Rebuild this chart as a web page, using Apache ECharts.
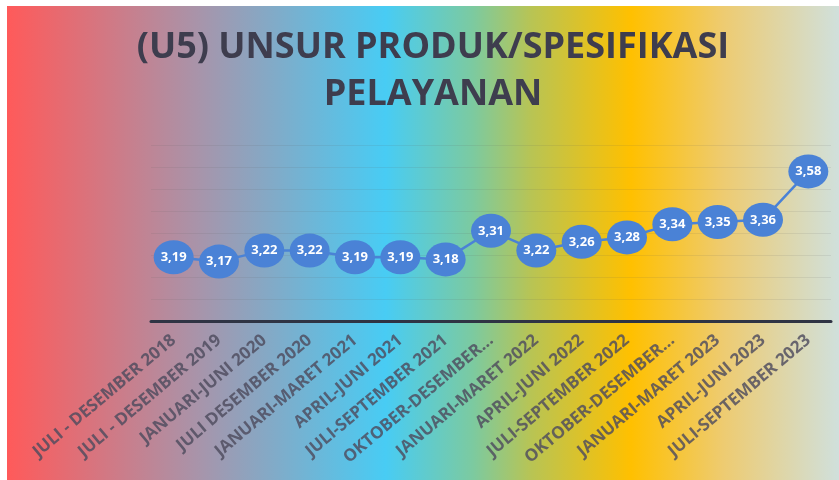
<!DOCTYPE html>
<html>
<head>
<meta charset="utf-8">
<script src="https://cdn.jsdelivr.net/npm/echarts@6/dist/echarts.min.js"></script>
<style>
  html, body { margin: 0; padding: 0; background: #fff; }
  #myChart {
    position: absolute;
    left: 7px;
    top: 6px;
    width: 832px;
    height: 474px;
  }
</style>
</head>
<body>
<div id="myChart"></div>
<script>
// data
const periods = [
  'JULI - DESEMBER 2018', 'JULI - DESEMBER 2019', 'JANUARI-JUNI 2020',
  'JULI DESEMBER 2020', 'JANUARI-MARET 2021', 'APRIL-JUNI 2021',
  'JULI-SEPTEMBER 2021', 'OKTOBER-DESEMBER 2021', 'JANUARI-MARET 2022',
  'APRIL-JUNI 2022', 'JULI-SEPTEMBER 2022', 'OKTOBER-DESEMBER 2022',
  'JANUARI-MARET 2023', 'APRIL-JUNI 2023', 'JULI-SEPTEMBER 2023'
]
const scores = [3.19, 3.17, 3.22, 3.22, 3.19, 3.19, 3.18, 3.31, 3.22, 3.26, 3.28, 3.34, 3.35, 3.36, 3.58]
const titleLines = ['(U5) UNSUR PRODUK/SPESIFIKASI', 'PELAYANAN']

const myChart = echarts.init(document.getElementById('myChart'))

myChart.setOption({
  animation: false,
  // rainbow background like the office preset
  backgroundColor: new echarts.graphic.LinearGradient(0, 0, 1, 0, [
    { offset: 0, color: '#ff5a5a' },
    { offset: 0.23, color: '#a894aa' },
    { offset: 0.455, color: '#48ccf4' },
    { offset: 0.56, color: '#7ccaa0' },
    { offset: 0.63, color: '#b8c454' },
    { offset: 0.75, color: '#ffc000' },
    { offset: 0.86, color: '#eecb70' },
    { offset: 1, color: '#d0e0dc' }
  ]),
  graphic: [
    {
      type: 'text',
      x: 426,
      y: 18,
      style: {
        text: titleLines.join('\n'),
        font: 'bold 36px "Open Sans", sans-serif',
        fill: '#3e3d4e',
        align: 'center',
        lineHeight: 47
      }
    }
  ],
  grid: {
    left: 144,
    right: 8,
    top: 139,
    bottom: 159
  },
  xAxis: {
    type: 'category',
    boundaryGap: true,
    data: periods,
    axisLine: {
      lineStyle: { color: '#2f3444', width: 3 }
    },
    axisTick: { show: false },
    axisLabel: {
      interval: 0,
      rotate: 40,
      margin: 17,
      color: 'rgba(78, 76, 94, 0.82)',
      fontFamily: 'Open Sans',
      fontWeight: 'bold',
      fontSize: 17,
      width: 193,
      overflow: 'truncate',
      ellipsis: '...'
    }
  },
  yAxis: {
    type: 'value',
    min: 2.9,
    max: 3.7,
    interval: 0.1,
    axisLine: { show: false },
    axisTick: { show: false },
    axisLabel: { show: false },
    splitLine: {
      lineStyle: { color: 'rgba(90, 90, 90, 0.11)', width: 1 }
    }
  },
  series: [
    {
      type: 'line',
      data: scores,
      symbol: 'circle',
      symbolSize: [40, 34],
      itemStyle: { color: '#4a82d6' },
      lineStyle: { color: '#4a82d6', width: 2.5 },
      label: {
        show: true,
        position: 'inside',
        color: '#fff',
        fontFamily: 'Open Sans',
        fontWeight: 'bold',
        fontSize: 13,
        formatter: (p) => p.value.toFixed(2).replace('.', ',')
      }
    }
  ]
})
</script>
</body>
</html>
